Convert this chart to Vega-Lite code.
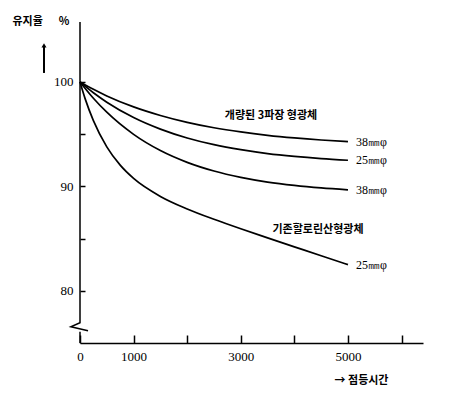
{
  "$schema": "https://vega.github.io/schema/vega-lite/v6.json",
  "width": 343,
  "height": 321,
  "autosize": "none",
  "padding": {"left": 80, "top": 22, "right": 27, "bottom": 56},
  "background": "white",
  "config": {"view": {"stroke": null}},
  "datasets": {
    "curves": [
      {"series": "c1", "t": 0, "r": 100}, {"series": "c1", "t": 250, "r": 99.29}, {"series": "c1", "t": 500, "r": 98.66}, {"series": "c1", "t": 1000, "r": 97.61}, {"series": "c1", "t": 1500, "r": 96.79}, {"series": "c1", "t": 2000, "r": 96.13}, {"series": "c1", "t": 2500, "r": 95.61}, {"series": "c1", "t": 3000, "r": 95.21}, {"series": "c1", "t": 3500, "r": 94.89}, {"series": "c1", "t": 4000, "r": 94.64}, {"series": "c1", "t": 4500, "r": 94.44}, {"series": "c1", "t": 5000, "r": 94.28},
      {"series": "c2", "t": 0, "r": 100}, {"series": "c2", "t": 250, "r": 98.96}, {"series": "c2", "t": 500, "r": 98.06}, {"series": "c2", "t": 1000, "r": 96.59}, {"series": "c2", "t": 1500, "r": 95.48}, {"series": "c2", "t": 2000, "r": 94.63}, {"series": "c2", "t": 2500, "r": 93.99}, {"series": "c2", "t": 3000, "r": 93.51}, {"series": "c2", "t": 3500, "r": 93.14}, {"series": "c2", "t": 4000, "r": 92.87}, {"series": "c2", "t": 4500, "r": 92.66}, {"series": "c2", "t": 5000, "r": 92.5},
      {"series": "c3", "t": 0, "r": 100}, {"series": "c3", "t": 250, "r": 98.44}, {"series": "c3", "t": 500, "r": 97.1}, {"series": "c3", "t": 1000, "r": 94.98}, {"series": "c3", "t": 1500, "r": 93.43}, {"series": "c3", "t": 2000, "r": 92.3}, {"series": "c3", "t": 2500, "r": 91.47}, {"series": "c3", "t": 3000, "r": 90.86}, {"series": "c3", "t": 3500, "r": 90.41}, {"series": "c3", "t": 4000, "r": 90.09}, {"series": "c3", "t": 4500, "r": 89.85}, {"series": "c3", "t": 5000, "r": 89.67},
      {"series": "c4", "t": 0, "r": 100}, {"series": "c4", "t": 100, "r": 98.33}, {"series": "c4", "t": 250, "r": 96.29}, {"series": "c4", "t": 500, "r": 93.78}, {"series": "c4", "t": 750, "r": 92.03}, {"series": "c4", "t": 1000, "r": 90.76}, {"series": "c4", "t": 1500, "r": 89.04}, {"series": "c4", "t": 2000, "r": 87.84}, {"series": "c4", "t": 2500, "r": 86.85}, {"series": "c4", "t": 3000, "r": 85.94}, {"series": "c4", "t": 3500, "r": 85.07}, {"series": "c4", "t": 4000, "r": 84.21}, {"series": "c4", "t": 4500, "r": 83.35}, {"series": "c4", "t": 5000, "r": 82.5}
    ],
    "ends": [
      {"series": "c1", "t": 5000, "r": 94.28, "label": "38㎜φ"},
      {"series": "c2", "t": 5000, "r": 92.5, "label": "25㎜φ"},
      {"series": "c3", "t": 5000, "r": 89.67, "label": "38㎜φ"},
      {"series": "c4", "t": 5000, "r": 82.5, "label": "25㎜φ"}
    ],
    "groups": [
      {"t": 3564, "r": 96.75, "label": "개량된 3파장 형광체"},
      {"t": 4441, "r": 85.8, "label": "기존할로린산형광체"}
    ],
    "axisline": [
      {"seg": "a", "o": 1, "t": 0, "r": 105.74},
      {"seg": "a", "o": 2, "t": 0, "r": 76.94},
      {"seg": "a", "o": 3, "t": -170, "r": 76.56},
      {"seg": "a", "o": 4, "t": 150, "r": 76.17},
      {"seg": "b", "o": 1, "t": 0, "r": 76.08},
      {"seg": "b", "o": 2, "t": 0, "r": 75}
    ],
    "arrow": [
      {"t": -672, "r": 100.86, "r2": 103.5}
    ]
  },
  "layer": [
    {
      "data": {"name": "curves"},
      "mark": {"type": "line", "interpolate": "monotone", "color": "black", "strokeWidth": 1.7},
      "encoding": {
        "x": {
          "field": "t", "type": "quantitative",
          "scale": {"domain": [0, 6400], "nice": false, "zero": false},
          "axis": {
            "title": "→ 점등시간",
            "titleFont": "Noto Sans CJK KR", "titleFontWeight": "bold", "titleFontSize": 11, "titleColor": "black",
            "titleX": 281, "titleY": 37, "titleAlign": "center", "titleBaseline": "middle",
            "values": [0, 1000, 2000, 3000, 4000, 5000, 6000],
            "format": "d",
            "labelExpr": "(datum.value == 0 || datum.value == 1000 || datum.value == 3000 || datum.value == 5000) ? datum.label : ''",
            "labelFont": "Liberation Serif", "labelFontSize": 13, "labelColor": "black",
            "labelBaseline": "middle", "labelPadding": 21, "labelFlush": false,
            "tickSize": -8, "tickColor": "black", "tickWidth": 1.5,
            "domainColor": "black", "domainWidth": 1.5,
            "grid": false
          }
        },
        "y": {
          "field": "r", "type": "quantitative",
          "scale": {"domain": [75, 105.74], "nice": false, "zero": false},
          "axis": {
            "title": "유지율\u3000\u00a0\u00a0%",
            "titleFont": "Noto Sans CJK KR", "titleFontWeight": "bold", "titleFontSize": 11, "titleColor": "black",
            "titleAngle": 0, "titleX": -68, "titleY": -1, "titleAlign": "left", "titleBaseline": "middle",
            "values": [80, 85, 90, 95, 100],
            "labelExpr": "(datum.value == 80 || datum.value == 90 || datum.value == 100) ? datum.label : ''",
            "labelFont": "Liberation Serif", "labelFontSize": 13, "labelColor": "black",
            "labelPadding": 12, "labelFlush": false,
            "tickSize": -5, "tickColor": "black", "tickWidth": 1.5,
            "domain": false,
            "grid": false
          }
        },
        "detail": {"field": "series"}
      }
    },
    {
      "data": {"name": "axisline"},
      "mark": {"type": "line", "color": "black", "strokeWidth": 1.5, "clip": false},
      "encoding": {
        "x": {"field": "t", "type": "quantitative"},
        "y": {"field": "r", "type": "quantitative"},
        "detail": {"field": "seg"},
        "order": {"field": "o"}
      }
    },
    {
      "data": {"name": "arrow"},
      "mark": {"type": "rule", "color": "black", "strokeWidth": 2},
      "encoding": {
        "x": {"field": "t", "type": "quantitative"},
        "y": {"field": "r", "type": "quantitative"},
        "y2": {"field": "r2"}
      }
    },
    {
      "data": {"name": "arrow"},
      "mark": {"type": "point", "shape": "triangle-up", "filled": true, "color": "black", "size": 25, "opacity": 1},
      "encoding": {
        "x": {"field": "t", "type": "quantitative"},
        "y": {"field": "r2", "type": "quantitative"}
      }
    },
    {
      "data": {"name": "ends"},
      "mark": {"type": "text", "align": "left", "baseline": "middle", "dx": 8, "font": "Liberation Serif", "fontSize": 12, "color": "black"},
      "encoding": {
        "x": {"field": "t", "type": "quantitative"},
        "y": {"field": "r", "type": "quantitative"},
        "text": {"field": "label"}
      }
    },
    {
      "data": {"name": "groups"},
      "mark": {"type": "text", "align": "center", "baseline": "middle", "font": "Noto Sans CJK KR", "fontWeight": "bold", "fontSize": 11, "color": "black"},
      "encoding": {
        "x": {"field": "t", "type": "quantitative"},
        "y": {"field": "r", "type": "quantitative"},
        "text": {"field": "label"}
      }
    }
  ]
}
